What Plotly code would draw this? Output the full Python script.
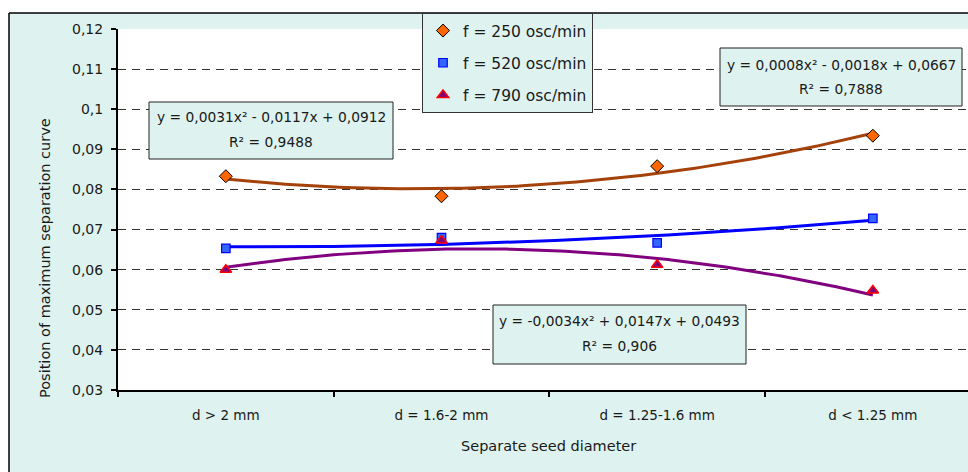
import numpy as np
import plotly.graph_objects as go

# ---------------- data ----------------
categories = ["d > 2 mm", "d = 1.6-2 mm", "d = 1.25-1.6 mm", "d < 1.25 mm"]
series_names = ["f = 250 osc/min", "f = 520 osc/min", "f = 790 osc/min"]
f250 = [0.0833, 0.0783, 0.0858, 0.0934]
f520 = [0.0653, 0.0680, 0.0667, 0.0728]
f790 = [0.0600, 0.0673, 0.0612, 0.0548]
# polynomial trendline coefficients (a, b, c) shown on the chart
trend250 = [0.0031, -0.0117, 0.0912]
trend520 = [0.0008, -0.0018, 0.0667]
trend790 = [-0.0034, 0.0147, 0.0493]
eq250 = ["y = 0,0031x² - 0,0117x + 0,0912", "R² = 0,9488"]
eq520 = ["y = 0,0008x² - 0,0018x + 0,0667", "R² = 0,7888"]
eq790 = ["y = -0,0034x² + 0,0147x + 0,0493", "R² = 0,906"]
y_tick_vals = [0.03, 0.04, 0.05, 0.06, 0.07, 0.08, 0.09, 0.10, 0.11, 0.12]
y_tick_labels = ["0,03", "0,04", "0,05", "0,06", "0,07", "0,08", "0,09", "0,1", "0,11", "0,12"]
x_title = "Separate seed diameter"
y_title = "Position of maximum separation curve"

# ---------------- geometry helpers ----------------
W, H = 968, 472
ML, MR, MT, MB = 118, 0, 29, 82
PW, PH = W - ML - MR, H - MT - MB


def px_x(p):
    return (p - ML) / PW


def px_y(p):
    return (H - MB - p) / PH


CYAN = "#DEF3EF"
FONT = "DejaVu Sans"
TXT = "#1a1a1a"

xcat = list(range(len(categories)))
fig = go.Figure()

# trendlines (Excel x = 1..n)
for coef, color in [(trend250, "#A5420A"), (trend520, "#0000FF"), (trend790, "#800080")]:
    xs = np.linspace(1, len(categories), 121)
    ys = np.polyval(coef, xs)
    fig.add_trace(go.Scatter(x=xs - 1, y=ys, mode="lines",
                             line=dict(color=color, width=3),
                             showlegend=False, hoverinfo="skip"))

styles = [
    dict(symbol="diamond", size=10, color="#FF6600", line=dict(color="black", width=1)),
    dict(symbol="square", size=8.5, color="#3366FF", line=dict(color="#0000FF", width=1.2)),
    dict(symbol="triangle-up", size=10, color="#800080", line=dict(color="#FF0000", width=1.5)),
]
for name, vals, st, g in zip(series_names, [f250, f520, f790], styles, ["a", "b", "c"]):
    fig.add_trace(go.Scatter(x=xcat, y=vals, mode="markers", name=name,
                             marker=st, legendgroup=g))

shapes = []
# outer chart frame
shapes.append(dict(type="rect", xref="paper", yref="paper", layer="below",
                   x0=px_x(-10), x1=px_x(W + 10), y0=px_y(13), y1=px_y(-10),
                   fillcolor="white", line=dict(width=0)))
shapes.append(dict(type="rect", xref="paper", yref="paper", layer="below",
                   x0=px_x(-10), x1=px_x(9), y0=px_y(H + 10), y1=px_y(-10),
                   fillcolor="white", line=dict(width=0)))
shapes.append(dict(type="line", xref="paper", yref="paper",
                   x0=px_x(9), x1=px_x(W + 10), y0=px_y(13), y1=px_y(13),
                   line=dict(color="black", width=1.5)))
shapes.append(dict(type="line", xref="paper", yref="paper",
                   x0=px_x(9), x1=px_x(9), y0=px_y(13), y1=px_y(H + 10),
                   line=dict(color="black", width=1.5)))

annotations = []
boxes = [
    (eq250, 149, 393, 102, 159, 117, 142),
    (eq520, 720, 962, 48, 106, 65, 89),
    (eq790, 493, 746, 305, 364, 321, 346),
]
for eq, x0, x1, y0, y1, l1, l2 in boxes:
    shapes.append(dict(type="rect", xref="paper", yref="paper", layer="above",
                       x0=px_x(x0), x1=px_x(x1), y0=px_y(y1), y1=px_y(y0),
                       fillcolor=CYAN, line=dict(color="#222", width=1)))
    cx = (x0 + x1) / 2
    for txt, ly in zip(eq, [l1, l2]):
        annotations.append(dict(text=txt, xref="paper", yref="paper", x=px_x(cx), y=px_y(ly),
                                xanchor="center", yanchor="middle", showarrow=False,
                                font=dict(family=FONT, size=13.8, color=TXT)))

annotations.append(dict(text=y_title, xref="paper", yref="paper", x=px_x(45), y=px_y(258),
                        textangle=-90, xanchor="center", yanchor="middle", showarrow=False,
                        font=dict(family=FONT, size=14.5, color=TXT)))
annotations.append(dict(text=x_title, xref="paper", yref="paper", x=px_x(548), y=px_y(446),
                        xanchor="center", yanchor="middle", showarrow=False,
                        font=dict(family=FONT, size=14.5, color=TXT)))

fig.update_layout(
    width=W, height=H,
    margin=dict(l=ML, r=MR, t=MT, b=MB, pad=0),
    paper_bgcolor=CYAN, plot_bgcolor="white",
    shapes=shapes, annotations=annotations,
    legend=dict(x=px_x(422), y=px_y(13), xanchor="left", yanchor="top",
                bgcolor=CYAN, bordercolor="#333", borderwidth=1,
                font=dict(family=FONT, size=15.5, color=TXT),
                tracegroupgap=9),
    xaxis=dict(range=[-0.5, -0.5 + PW / 215.67], tickmode="array", tickvals=xcat,
               ticktext=categories, ticks="", showgrid=False, zeroline=False,
               showline=True, linecolor="black", linewidth=2,
               tickfont=dict(family=FONT, size=13.5, color=TXT), ticklabelstandoff=12,
               minor=dict(tickmode="array", tickvals=[-0.5, 0.5, 1.5, 2.5, 3.5],
                          ticks="outside", ticklen=5, tickwidth=1.5, tickcolor="black",
                          showgrid=False)),
    yaxis=dict(range=[0.03, 0.12], tickmode="array", tickvals=y_tick_vals,
               ticktext=y_tick_labels, ticks="outside", ticklen=5, tickwidth=1.5,
               tickcolor="black", showline=True, linecolor="black", linewidth=2,
               showgrid=True, gridcolor="#333", gridwidth=1, griddash="8px,6px",
               zeroline=False, tickfont=dict(family=FONT, size=14, color=TXT),
               ticklabelstandoff=5),
    showlegend=True,
)

fig.write_html("out.html", post_script="document.body.style.margin='0px';",
               config={"displayModeBar": False})
